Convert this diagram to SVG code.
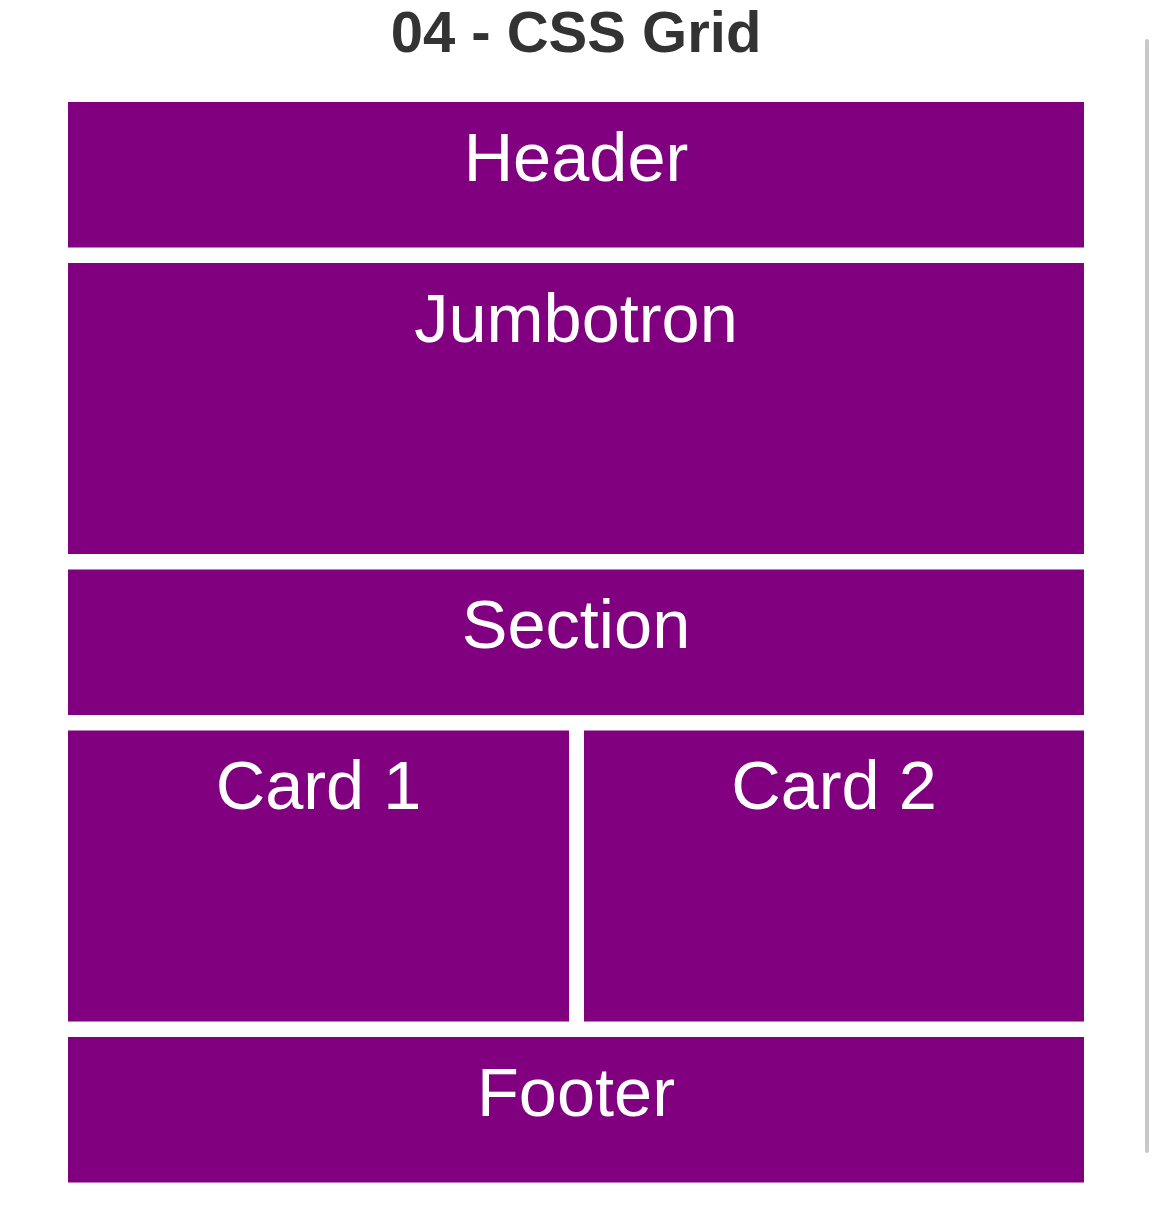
<svg xmlns="http://www.w3.org/2000/svg" width="1152" height="1230" viewBox="0 0 1152 1230">
<style>
.box{fill:#800080}
.lbl{fill:#ffffff;font-family:"Liberation Sans",Arial,sans-serif;font-size:68.5px;text-anchor:middle}
.title{fill:#333333;font-family:"Liberation Sans",Arial,sans-serif;font-size:58px;font-weight:bold;text-anchor:middle}
</style>
<rect width="1152" height="1230" fill="#ffffff"/>
<text class="title" x="576" y="52">04 - CSS Grid</text>
<g id="header"><rect class="box" x="68" y="102" width="1016" height="145.5"/><text class="lbl" x="576" y="181">Header</text></g>
<g id="jumbotron"><rect class="box" x="68" y="263" width="1016" height="291"/><text class="lbl" x="576" y="342">Jumbotron</text></g>
<g id="section"><rect class="box" x="68" y="569.5" width="1016" height="145.5"/><text class="lbl" x="576" y="648">Section</text></g>
<g id="card1"><rect class="box" x="68" y="730.5" width="501" height="291"/><text class="lbl" x="318.5" y="809">Card 1</text></g>
<g id="card2"><rect class="box" x="584" y="730.5" width="500" height="291"/><text class="lbl" x="834" y="809">Card 2</text></g>
<g id="footer"><rect class="box" x="68" y="1037" width="1016" height="145.5"/><text class="lbl" x="576" y="1116">Footer</text></g>
<g id="connectors"></g>
<rect x="1145" y="39" width="4" height="1114" rx="2" fill="#c8c8c8"/>
</svg>
